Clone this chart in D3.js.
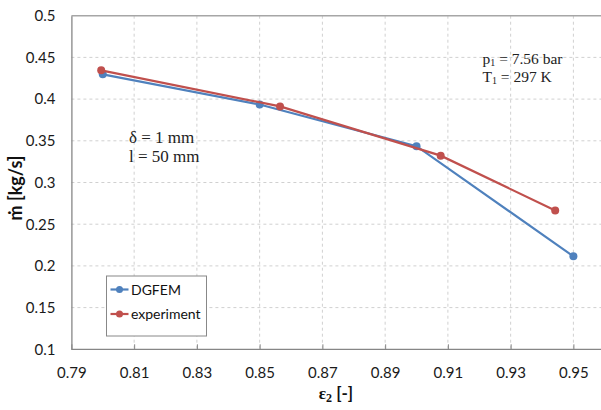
<!DOCTYPE html>
<html><head><meta charset="utf-8">
<script src="https://cdn.jsdelivr.net/npm/d3@7"></script>
<style>body{margin:0;background:#fff}</style>
</head><body>
<script>
const xTicks = [0.79,0.81,0.83,0.85,0.87,0.89,0.91,0.93,0.95];
const yTicks = [0.1,0.15,0.2,0.25,0.3,0.35,0.4,0.45,0.5];
const dgfemX = [0.80,0.85,0.90,0.95];
const dgfemY = [0.4297,0.3935,0.3435,0.2115];
const expX = [0.7995,0.8565,0.9077,0.9442];
const expY = [0.4345,0.3912,0.3322,0.2665];
const seriesNames = ["DGFEM","experiment"];
const colors = ["#4f81bd","#c0504d"];

const W=601,H=410;
const svg=d3.select("body").append("svg").attr("width",W).attr("height",H)
  .style("font-family","Lato, 'Open Sans', sans-serif");
const L=71.4, T=15.7, B=349.3;
const x=d3.scaleLinear().domain([0.79,0.95]).range([L,L+8*62.75]);
const y=d3.scaleLinear().domain([0.1,0.5]).range([B,T]);
const R=W;

// gridlines
const g=svg.append("g");
g.selectAll(".hg").data(yTicks.filter(v=>v>0.1&&v<0.5)).join("line")
  .attr("x1",L).attr("x2",R).attr("y1",d=>y(d)).attr("y2",d=>y(d))
  .attr("stroke","#d0d0d0").attr("stroke-dasharray","3,3").attr("stroke-width",1);
g.selectAll(".vg").data(xTicks.filter(v=>v>0.79)).join("line")
  .attr("x1",d=>x(d)).attr("x2",d=>x(d)).attr("y1",T).attr("y2",B)
  .attr("stroke","#d0d0d0").attr("stroke-dasharray","3,3").attr("stroke-width",1);
// border top
svg.append("line").attr("x1",L).attr("x2",R).attr("y1",T).attr("y2",T).attr("stroke","#a6a6a6").attr("stroke-width",1.5);

// axes
const xAxis=d3.axisBottom(x).tickValues(xTicks).tickFormat(d3.format(".2f")).tickSizeInner(-5).tickSizeOuter(0).tickPadding(18);
const xa=svg.append("g").attr("transform",`translate(0,${B})`).call(xAxis);
xa.select(".domain").attr("stroke","#868686").attr("stroke-width",1.3).attr("d",`M${L},0H${R}`);
xa.selectAll(".tick line").attr("stroke","#868686");
xa.selectAll("text").attr("font-size",15).attr("fill","#1a1a1a").attr("font-family","Lato, sans-serif");

const yAxis=d3.axisLeft(y).tickValues(yTicks).tickFormat(d=>d3.format("")(+d.toFixed(2))).tickSize(0).tickPadding(16);
const ya=svg.append("g").attr("transform",`translate(${L},0)`).call(yAxis);
ya.select(".domain").attr("stroke","#868686").attr("stroke-width",1.3);
ya.selectAll("text").attr("font-size",15).attr("fill","#1a1a1a").attr("font-family","Lato, sans-serif");

// series
const series=[dgfemX.map((v,i)=>[v,dgfemY[i]]), expX.map((v,i)=>[v,expY[i]])];
const line=d3.line().x(d=>x(d[0])).y(d=>y(d[1]));
series.forEach((s,i)=>{
  svg.append("path").attr("d",line(s)).attr("fill","none").attr("stroke",colors[i]).attr("stroke-width",2.2);
  svg.selectAll(null).data(s).join("circle").attr("cx",d=>x(d[0])).attr("cy",d=>y(d[1])).attr("r",4).attr("fill",colors[i]);
});

// legend
const lg=svg.append("g");
lg.append("rect").attr("x",106.5).attr("y",276).attr("width",100).attr("height",60).attr("fill","#fff").attr("stroke","#888").attr("stroke-width",1);
seriesNames.forEach((n,i)=>{
  const yy=289.5+i*24.5;
  lg.append("line").attr("x1",110.5).attr("x2",128.5).attr("y1",yy).attr("y2",yy).attr("stroke",colors[i]).attr("stroke-width",2.2);
  lg.append("circle").attr("cx",119.5).attr("cy",yy).attr("r",3.5).attr("fill",colors[i]);
  lg.append("text").attr("x",131).attr("y",yy+5).attr("font-size",14).attr("fill","#111").text(n);
});

// annotations
const ann=svg.append("g").attr("font-family","'Liberation Serif', serif").attr("font-size",17).attr("fill","#222");
const a1=ann.append("text").attr("x",129).attr("y",143);
a1.append("tspan").attr("x",129).text("δ = 1 mm");
a1.append("tspan").attr("x",129).attr("dy",18.5).text("l = 50 mm");
const t1=ann.append("text").attr("x",482.5).attr("y",63.5).attr("font-size",15.5);
t1.append("tspan").text("p");
t1.append("tspan").attr("font-size",10).attr("dy",2).text("1");
t1.append("tspan").attr("dy",-2).text(" = 7.56 bar");
const t2=ann.append("text").attr("x",482.5).attr("y",81.5).attr("font-size",15.5);
t2.append("tspan").text("T");
t2.append("tspan").attr("font-size",10).attr("dy",2).text("1");
t2.append("tspan").attr("dy",-2).text(" = 297 K");

// axis titles
const xt=svg.append("text").attr("x",336).attr("y",399).attr("text-anchor","middle").attr("font-size",17).attr("fill","#111");
xt.append("tspan").attr("font-family","'Liberation Serif', serif").attr("font-weight","bold").text("ε");
xt.append("tspan").attr("font-family","'Liberation Serif', serif").attr("font-weight","bold").attr("font-size",12).attr("dy",3).text("2");
xt.append("tspan").attr("dy",-3).attr("font-weight","bold").text(" [-]");

svg.append("text").attr("transform","translate(22,188) rotate(-90)").attr("text-anchor","middle")
  .attr("font-size",18).attr("font-weight","bold").attr("fill","#111").text("ṁ [kg/s]");
</script>
</body></html>
